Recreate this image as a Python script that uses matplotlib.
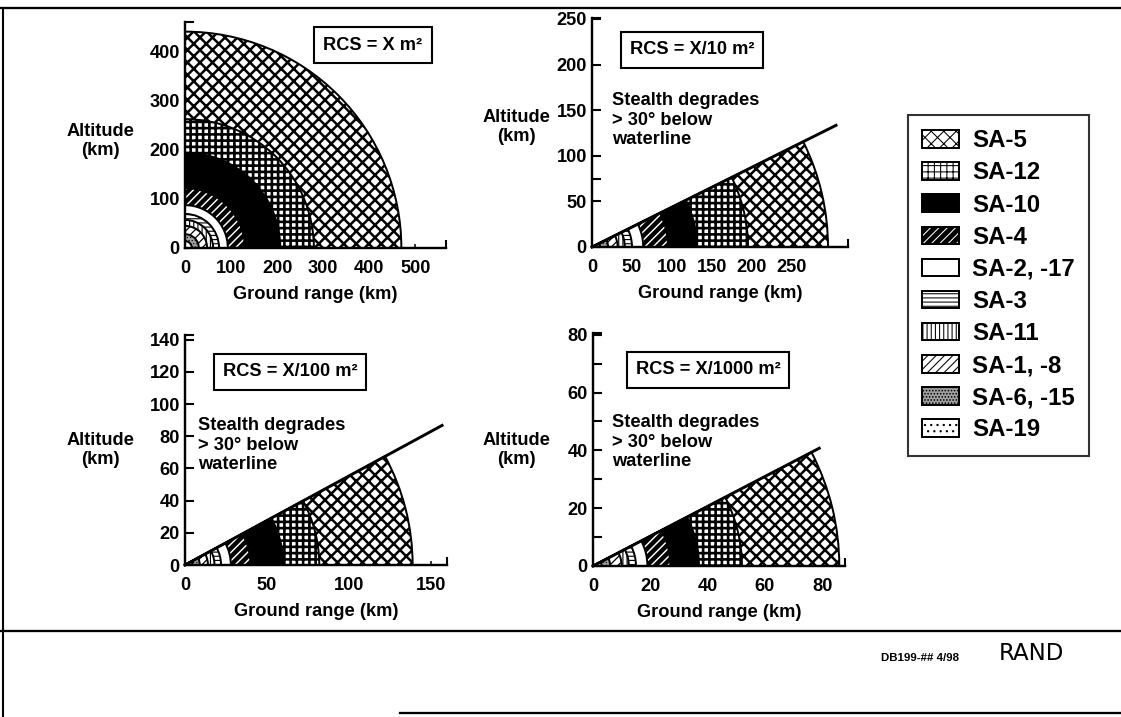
import numpy as np
import matplotlib
matplotlib.use("Agg")
import matplotlib.pyplot as plt
from matplotlib.patches import Wedge, Patch
from matplotlib.lines import Line2D
from matplotlib.legend_handler import HandlerTuple
import matplotlib.transforms as mtransforms

W, H, DPI = 1121, 717, 75
plt.rcParams["font.family"] = ["Liberation Sans", "DejaVu Sans"]
plt.rcParams["font.weight"] = "bold"

# ---------------- data ----------------
systems = ["SA-5", "SA-12", "SA-10", "SA-4", "SA-2, -17", "SA-3",
           "SA-11", "SA-1, -8", "SA-6, -15", "SA-19"]

# engagement ranges (km, ground range)
range_x = [470, 280, 207, 130, 93, 74, 61, 48, 30, 15]
range_x10 = [295, 195, 131, 95, 64, 50, 41, 32, 20, 10]
range_x100 = [139, 82, 60, 40, 28, 22, 18, 14, 9, 4.5]
range_x1000 = [86, 52, 37, 27, 19, 15, 12.5, 10, 6, 3]

rcs_labels = ["RCS = X m\u00b2", "RCS = X/10 m\u00b2",
              "RCS = X/100 m\u00b2", "RCS = X/1000 m\u00b2"]
elev_limit_deg = [90, 26.5, 28.5, 27.5]
stealth_line_reach = [None, 305, 157, 79]

xticks_tl = [0, 100, 200, 300, 400, 500]
yticks_tl = [0, 100, 200, 300, 400]
xticks_tr = [0, 50, 100, 150, 200, 250]
yticks_tr = [0, 50, 100, 150, 200, 250]
xticks_bl = [0, 50, 100, 150]
yticks_bl = [0, 20, 40, 60, 80, 100, 120, 140]
xticks_br = [0, 20, 40, 60, 80]
yticks_br = [0, 20, 40, 60, 80]
yminor_tr = [75]
yminor_br = [10, 30, 50, 70]

# ---------------- styles ----------------
# (facecolor, hatch, hatch colour, hatch linewidth)
styles = {
    "SA-5": ("white", "xx", "black", 2.4),
    "SA-12": ("white", "++", "black", 2.5),
    "SA-10": ("black", None, "black", 1.0),
    "SA-4": ("black", "///", "white", 1.4),
    "SA-2, -17": ("white", None, "black", 1.0),
    "SA-3": ("white", "---", "black", 1.1),
    "SA-11": ("white", "|||", "black", 1.1),
    "SA-1, -8": ("white", "///", "black", 1.2),
    "SA-6, -15": ("#a0a0a0", "....", "black", 0.6),
    "SA-19": ("white", "..", "black", 1.0),
}

fig = plt.figure(figsize=(W / DPI, H / DPI), dpi=DPI)
fig.patch.set_facecolor("white")


def px_axes(x0, x1, y0, y1):
    return fig.add_axes([x0 / W, 1 - y0 / H, (x1 - x0) / W, (y0 - y1) / H])


def set_hlw(p, lw):
    if hasattr(p, "set_hatch_linewidth"):
        p.set_hatch_linewidth(lw)


def make_patch(name):
    fc, hatch, hc, hlw = styles[name]
    plt.rcParams["hatch.linewidth"] = hlw
    if hc == "white":
        p1 = Patch(facecolor=fc, edgecolor="white", hatch=hatch, linewidth=0)
        set_hlw(p1, hlw)
        p2 = Patch(facecolor="none", edgecolor="black", linewidth=1.9)
        return (p1, p2)
    p = Patch(facecolor=fc, edgecolor="black", hatch=hatch, linewidth=1.9)
    set_hlw(p, hlw)
    return p


fs = 17.5
panels = [
    dict(box=(185, 446, 248, 22), xlim=567, ylim=459, ranges=range_x,
         xt=xticks_tl, yt=yticks_tl, ym=[], rcs=rcs_labels[0], rcs_xy=(373, 45),
         alt_xy=(100, 141), stealth=None),
    dict(box=(592, 848, 247, 18), xlim=320, ylim=251, ranges=range_x10,
         xt=xticks_tr, yt=yticks_tr, ym=yminor_tr, rcs=rcs_labels[1], rcs_xy=(692, 50),
         alt_xy=(516, 127), stealth=(612, 92)),
    dict(box=(185, 447, 565, 335), xlim=160, ylim=143, ranges=range_x100,
         xt=xticks_bl, yt=yticks_bl, ym=[], rcs=rcs_labels[2], rcs_xy=(290, 372),
         alt_xy=(100, 450), stealth=(198, 417)),
    dict(box=(593, 845, 566, 333), xlim=88, ylim=80.6, ranges=range_x1000,
         xt=xticks_br, yt=yticks_br, ym=yminor_br, rcs=rcs_labels[3], rcs_xy=(708, 370),
         alt_xy=(516, 450), stealth=(612, 414)),
]

for i, pn in enumerate(panels):
    x0, x1, y0, y1 = pn["box"]
    ax = px_axes(x0, x1, y0, y1)
    ax.set_xlim(0, pn["xlim"])
    ax.set_ylim(0, pn["ylim"])
    ax.set_facecolor("none")
    for s in ["top", "right"]:
        ax.spines[s].set_visible(False)
    for s in ["left", "bottom"]:
        ax.spines[s].set_linewidth(2.3)
        ax.spines[s].set_zorder(5)
    ax.set_xticks(pn["xt"])
    ax.set_yticks(pn["yt"])
    ax.set_xticks([pn["xlim"]], minor=True)
    ax.set_yticks(list(pn["ym"]) + [pn["ylim"]], minor=True)
    ax.tick_params(axis="y", which="both", direction="in", length=9, width=2,
                   labelsize=fs, pad=5)
    ax.tick_params(axis="x", which="major", direction="in", length=4, width=1.5,
                   labelsize=fs, pad=11.5)
    ax.tick_params(axis="x", which="minor", direction="in", length=8, width=2)
    for lab in ax.get_xticklabels() + ax.get_yticklabels():
        lab.set_fontweight("bold")
    ax.set_xlabel("Ground range (km)", fontsize=fs, fontweight="bold", labelpad=9)
    ax.set_ylabel("Altitude\n(km)", fontsize=fs, fontweight="bold", rotation=0,
                  ha="center", va="center", linespacing=1.15)
    ax.yaxis.set_label_coords((pn["alt_xy"][0] - x0) / (x1 - x0),
                              (y0 - pn["alt_xy"][1]) / (y0 - y1))

    # isotropic (pixel-circular) drawing frame in ground-range km
    sx = (x1 - x0) / pn["xlim"]
    sy = (y0 - y1) / pn["ylim"]
    tr = mtransforms.Affine2D().scale(1, sx / sy) + ax.transData
    elev = elev_limit_deg[i]
    for name, r in zip(systems, pn["ranges"]):
        fc, hatch, hc, hlw = styles[name]
        plt.rcParams["hatch.linewidth"] = hlw
        if hc == "white":
            w = Wedge((0, 0), r, 0, elev, facecolor=fc, edgecolor="white",
                      hatch=hatch, linewidth=0, transform=tr, zorder=2)
            set_hlw(w, hlw)
            ax.add_patch(w)
            ax.add_patch(Wedge((0, 0), r, 0, elev, facecolor="none",
                               edgecolor="black", linewidth=1.9, transform=tr, zorder=2))
        else:
            w = Wedge((0, 0), r, 0, elev, facecolor=fc, edgecolor="black",
                      hatch=hatch, linewidth=1.9, transform=tr, zorder=2)
            set_hlw(w, hlw)
            ax.add_patch(w)
    reach = stealth_line_reach[i]
    if reach is not None:
        ang = np.deg2rad(elev)
        ax.add_line(Line2D([0, reach], [0, reach * np.tan(ang)], color="black",
                           linewidth=2.8, transform=tr, zorder=4, clip_on=False))
        sxp, syp = pn["stealth"]
        fig.text(sxp / W, 1 - syp / H, "Stealth degrades\n> 30\u00b0 below\nwaterline",
                 fontsize=fs, fontweight="bold", ha="left", va="top", linespacing=1.2)
    rx, ry = pn["rcs_xy"]
    fig.text(rx / W, 1 - ry / H, pn["rcs"], fontsize=fs, fontweight="bold",
             ha="center", va="center",
             bbox=dict(boxstyle="square,pad=0.5", facecolor="white",
                       edgecolor="black", linewidth=2))

# ---------------- legend ----------------
handles = [make_patch(n) for n in systems]
leg = fig.legend(handles, systems, loc="upper left",
                 bbox_to_anchor=(908 / W, 1 - 115 / H),
                 prop=dict(family="Liberation Sans", weight="bold", size=23),
                 frameon=True, fancybox=False, edgecolor="black",
                 handlelength=1.54, handleheight=0.75, handletextpad=0.54,
                 labelspacing=0.38, borderpad=0.6, borderaxespad=0,
                 handler_map={tuple: HandlerTuple(ndivide=1, pad=0)})
leg.get_frame().set_linewidth(2)

# ---------------- page frame and footer ----------------
def hline(y, xa, xb, lw=2.0):
    fig.add_artist(Line2D([xa / W, xb / W], [1 - y / H, 1 - y / H],
                          transform=fig.transFigure, color="black", linewidth=lw))

hline(8, 0, W, 2.2)
hline(631, 0, W, 2.2)
hline(713, 400, W, 2.2)
fig.add_artist(Line2D([3 / W, 3 / W], [1 - 8 / H, 0], transform=fig.transFigure,
                      color="black", linewidth=2))

fig.text(920 / W, 1 - 658 / H, "DB199-## 4/98", fontsize=11, fontweight="bold",
         ha="center", va="center")
fig.text(1031 / W, 1 - 653 / H, "RAND", family="DejaVu Sans", fontsize=22,
         fontweight="normal", ha="center", va="center")

fig.savefig("out.png", dpi=DPI)
